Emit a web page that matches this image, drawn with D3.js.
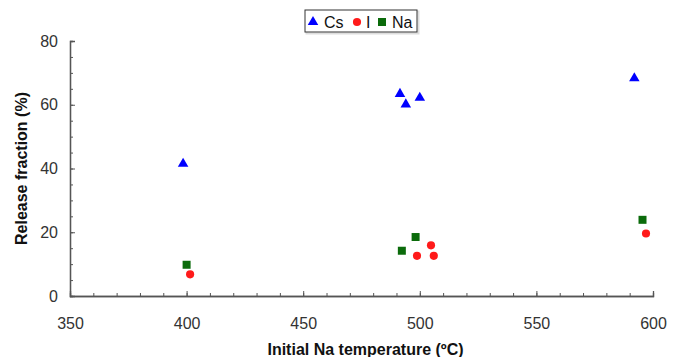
<!DOCTYPE html>
<html>
<head>
<meta charset="utf-8">
<script src="https://cdn.jsdelivr.net/npm/d3@7"></script>
<style>
  html, body { margin: 0; padding: 0; background: #fff; }
  svg { display: block; font-family: Arial, "Liberation Sans", sans-serif; }
</style>
</head>
<body>
<svg id="chart" width="680" height="357"></svg>
<script>
// Release fractions versus initial sodium temperature
const csTemp  = [398.5, 491.5, 494, 500, 592];
const csValue = [41.5, 63.4, 60.1, 62.2, 68.3];

const iTemp  = [401.5, 498.8, 504.8, 506, 597];
const iValue = [6.8, 12.6, 15.9, 12.6, 19.6];

const naTemp  = [400, 492.3, 498.2, 595.5];
const naValue = [9.8, 14.2, 18.5, 23.9];

const xTicks = [350, 400, 450, 500, 550, 600];
const yTicks = [0, 20, 40, 60, 80];

const seriesNames  = ["Cs", "I", "Na"];
const seriesColors = ["#0000ff", "#ff1a1a", "#0b6b0b"];

const svg = d3.select("#chart");
const plot = { left: 70, right: 653, top: 41, bottom: 296 };

const x = d3.scaleLinear().domain([350, 600]).range([plot.left, plot.right]);
const y = d3.scaleLinear().domain([0, 80]).range([plot.bottom, plot.top]);

const axisColor = "#555";

// Axes: minor ticks first, then major ticks with labels
const xMinor = d3.axisBottom(x).tickValues(d3.range(350, 601, 10)).tickSize(-3).tickFormat("");
const xMajor = d3.axisBottom(x).tickValues(xTicks).tickSize(-5).tickPadding(22).tickFormat(d3.format("d"));
const yMinor = d3.axisLeft(y).tickValues(d3.range(0, 81, 5)).tickSize(-3).tickFormat("");
const yMajor = d3.axisLeft(y).tickValues(yTicks).tickSize(-5).tickPadding(12).tickFormat(d3.format("d"));

function styleAxis(g) {
  g.select(".domain").attr("stroke", axisColor).attr("stroke-width", 1.3);
  g.selectAll(".tick line").attr("stroke", axisColor).attr("stroke-width", 1);
  g.selectAll(".tick text").attr("fill", "#333").style("font-size", "16px")
    .style("font-family", "Arial, 'Liberation Sans', sans-serif");
}

svg.append("g").attr("transform", `translate(0,${plot.bottom})`).call(xMinor).call(styleAxis);
svg.append("g").attr("transform", `translate(0,${plot.bottom})`).call(xMajor).call(styleAxis);
svg.append("g").attr("transform", `translate(${plot.left},0)`).call(yMinor).call(styleAxis);
svg.append("g").attr("transform", `translate(${plot.left},0)`).call(yMajor).call(styleAxis);

// Axis titles
svg.append("text")
  .attr("x", (plot.left + plot.right) / 2 + 4)
  .attr("y", 355)
  .attr("text-anchor", "middle")
  .attr("font-weight", "bold")
  .attr("font-size", 16)
  .attr("fill", "#111")
  .text("Initial Na temperature (ºC)");

svg.append("text")
  .attr("transform", `translate(27,${(plot.top + plot.bottom) / 2}) rotate(-90)`)
  .attr("text-anchor", "middle")
  .attr("font-weight", "bold")
  .attr("font-size", 16)
  .attr("fill", "#111")
  .text("Release fraction (%)");

// Marker shapes
const triangle = d3.symbol().type(d3.symbolTriangle).size(48);
const circle   = d3.symbol().type(d3.symbolCircle).size(52);
const square   = d3.symbol().type(d3.symbolSquare).size(64);
const shapes = [triangle, circle, square];

const series = [
  { t: csTemp, v: csValue },
  { t: iTemp,  v: iValue },
  { t: naTemp, v: naValue }
];

series.forEach((s, k) => {
  svg.append("g").selectAll("path")
    .data(s.t.map((t, i) => [t, s.v[i]]))
    .join("path")
    .attr("d", shapes[k])
    .attr("transform", d => `translate(${x(d[0])},${y(d[1])})`)
    .attr("fill", seriesColors[k]);
});

// Legend
const legend = svg.append("g").attr("transform", "translate(305,10)");
legend.append("rect")
  .attr("x", 1.5).attr("y", 1.5).attr("width", 112).attr("height", 22)
  .attr("fill", "none").attr("stroke", "#ddd").attr("stroke-width", 2);
legend.append("rect")
  .attr("width", 112).attr("height", 22)
  .attr("fill", "#fff").attr("stroke", "#333").attr("stroke-width", 1);

const legendX = [8, 52, 77];
const textX   = [19, 61, 87];
seriesNames.forEach((name, k) => {
  legend.append("path")
    .attr("d", shapes[k])
    .attr("transform", `translate(${legendX[k]},12)`)
    .attr("fill", seriesColors[k]);
  legend.append("text")
    .attr("x", textX[k]).attr("y", 17.5)
    .attr("font-size", 16)
    .attr("fill", "#111")
    .text(name);
});
</script>
</body>
</html>
